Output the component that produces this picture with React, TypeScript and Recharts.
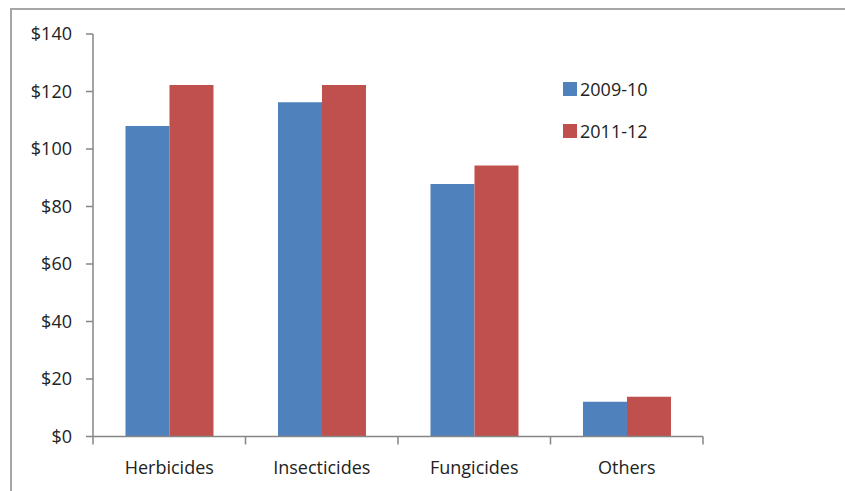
import { Bar, BarChart, Legend, XAxis, YAxis } from "recharts";

// spending by product type, dollars
const categories = ["Herbicides", "Insecticides", "Fungicides", "Others"];
const season2009 = [108, 116.3, 87.8, 12.1];
const season2011 = [122.3, 122.3, 94.3, 13.8];
const yTicks = [0, 20, 40, 60, 80, 100, 120, 140];

const seriesNames = ["2009-10", "2011-12"];
const colors = ["#4F81BD", "#C0504D"];

const data = categories.map((name, i) => ({
  name,
  [seriesNames[0]]: season2009[i],
  [seriesNames[1]]: season2011[i],
}));

const axisColor = "#868686";
const font = "'Open Sans', Lato, sans-serif";

// Excel-style category ticks: marks sit between categories, label in the middle
function CategoryTick(props: any) {
  const { x, y, payload, index, width, visibleTicksCount } = props;
  const band = width / visibleTicksCount;
  const left = x - band / 2;
  const isLast = index === visibleTicksCount - 1;
  return (
    <g>
      <line x1={left} x2={left} y1={y - 8} y2={y} stroke={axisColor} strokeWidth={1.5} />
      {isLast && (
        <line x1={x + band / 2} x2={x + band / 2} y1={y - 8} y2={y} stroke={axisColor} strokeWidth={1.5} />
      )}
      <text x={x} y={y + 17} dy="0.71em" textAnchor="middle" fill="#222" fontSize={18} fontFamily={font}>
        {payload.value}
      </text>
    </g>
  );
}

function LegendBox(props: any) {
  const { payload } = props;
  return (
    <div style={{ fontFamily: font, fontSize: 18, color: "#222" }}>
      {(payload || []).map((p: any) => (
        <div key={p.value} style={{ display: "flex", alignItems: "center", height: 24, marginBottom: 18 }}>
          <span style={{ display: "inline-block", width: 14, height: 14, background: p.color, marginRight: 3 }} />
          <span>{p.value}</span>
        </div>
      ))}
    </div>
  );
}

export default function App() {
  return (
    <div style={{ position: "relative", width: 845, height: 491, background: "#fff", overflow: "hidden" }}>
      <style>{`body { margin: 0; }`}</style>
      <div
        style={{
          position: "absolute",
          left: 10,
          top: 8,
          right: -10,
          bottom: -10,
          borderTop: "2px solid #a6a6a6",
          borderLeft: "2px solid #a6a6a6",
        }}
      />
      <BarChart
        width={845}
        height={491}
        data={data}
        margin={{ top: 34, right: 142, bottom: 0, left: 33 }}
        barCategoryGap="21.3%"
        barGap={0}
      >
        <XAxis
          dataKey="name"
          stroke={axisColor}
          strokeWidth={1.5}
          tickLine={false}
          tick={<CategoryTick />}
          interval={0}
          height={54.5}
        />
        <YAxis
          domain={[0, 140]}
          ticks={yTicks}
          width={60}
          stroke={axisColor}
          strokeWidth={1.5}
          tickSize={7}
          tickMargin={14}
          tickFormatter={(v: number) => `$${v}`}
          tick={{ fill: "#222", fontSize: 18, fontFamily: font }}
        />
        {/* horizontal + middle keeps the legend from shrinking the plot area */}
        <Legend
          layout="horizontal"
          verticalAlign="middle"
          align="center"
          content={<LegendBox />}
          wrapperStyle={{ position: "absolute", left: 563, top: 77, width: 150 }}
        />
        <Bar dataKey={seriesNames[0]} fill={colors[0]} isAnimationActive={false} />
        <Bar dataKey={seriesNames[1]} fill={colors[1]} isAnimationActive={false} />
      </BarChart>
    </div>
  );
}
